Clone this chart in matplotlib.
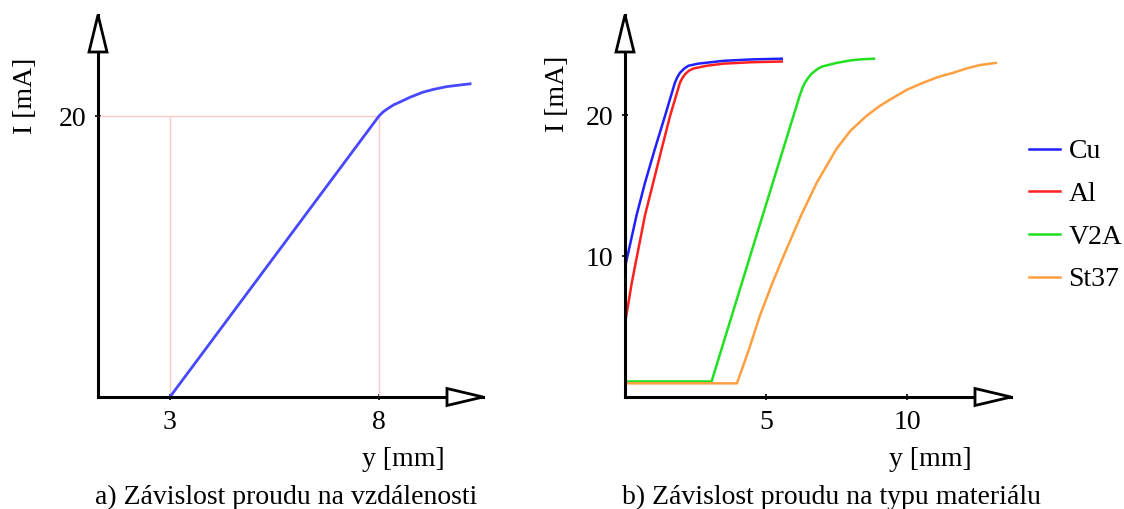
import numpy as np
import matplotlib.pyplot as plt
from matplotlib.patches import Polygon

plt.rcParams['font.family'] = ['Liberation Serif', 'DejaVu Serif']

# a) proud v zavislosti na vzdalenosti
a_y = [3, 8, 8.1, 8.22, 8.35, 8.5, 8.75, 9.05, 9.3, 9.62, 9.9, 10.18]
a_I = [0, 20, 20.3, 20.55, 20.8, 21.0, 21.35, 21.7, 21.9, 22.1, 22.2, 22.3]

# b) proud v zavislosti na materialu
cu_y = [0, 0.41, 0.71, 1.06, 1.42, 1.77, 1.86, 1.95, 2.1, 2.25, 2.6, 3.5, 4.5, 5.56]
cu_I = [9.2, 12.9, 15.2, 17.6, 19.95, 22.3, 22.7, 23.0, 23.3, 23.5, 23.65, 23.85, 23.95, 24.0]
al_y = [0, 0.24, 0.71, 1.3, 1.6, 1.95, 2.04, 2.13, 2.27, 2.42, 2.9, 3.5, 4.5, 5.56]
al_I = [5.2, 8.1, 12.9, 17.6, 19.95, 22.3, 22.65, 22.9, 23.15, 23.3, 23.5, 23.65, 23.75, 23.8]
v2a_y = [0, 3.07, 4.5, 6.2, 6.29, 6.38, 6.5, 6.6, 6.72, 6.85, 7.0, 7.2, 7.5, 8.0, 8.4, 8.83]
v2a_I = [1.1, 1.1, 10.4, 21.4, 21.9, 22.3, 22.65, 22.9, 23.1, 23.3, 23.45, 23.55, 23.7, 23.88, 23.96, 24.0]
st_y = [0, 3.97, 4.4, 4.79, 5.25, 5.73, 6.25, 6.8, 7.5, 8.0, 8.57, 9.0, 9.4, 10.0, 10.58, 11.1, 11.64, 12.1, 12.59, 13.15]
st_I = [0.97, 0.97, 3.4, 5.8, 8.2, 10.5, 12.9, 15.2, 17.6, 18.9, 19.95, 20.6, 21.1, 21.8, 22.3, 22.7, 23.0, 23.3, 23.55, 23.7]

materialy = ['Cu', 'Al', 'V2A', 'St37']
barvy = ['#2020ff', '#ff2020', '#20e020', '#ffa040']

FS = 20
fig = plt.figure(figsize=(11.24, 5.09), dpi=100)


def osy(left, right, top=15, bottom=397):
    W = right - left
    H = bottom - top
    ax = fig.add_axes([left / 1124, 1 - bottom / 509, W / 1124, H / 509])
    for s in ['top', 'right']:
        ax.spines[s].set_visible(False)
    for s in ['left', 'bottom']:
        ax.spines[s].set_linewidth(2.2)
    ax.tick_params(direction='inout', length=5, width=1.2, labelsize=FS)
    ax.tick_params(axis='x', pad=7)
    ax.tick_params(axis='y', pad=6)
    # sipky na koncich os
    up = Polygon([(0, 1), (-9 / W, 1 - 37 / H), (9 / W, 1 - 37 / H)], closed=True,
                 transform=ax.transAxes, facecolor='white', edgecolor='black',
                 lw=2, clip_on=False, zorder=5)
    rt = Polygon([(1, 0), (1 - 36 / W, 8.5 / H), (1 - 36 / W, -8.5 / H)], closed=True,
                 transform=ax.transAxes, facecolor='white', edgecolor='black',
                 lw=2, clip_on=False, zorder=5)
    ax.add_patch(up)
    ax.add_patch(rt)
    return ax, W, H


# graf a)
ax1, W1, H1 = osy(98, 483)
ax1.set_xlim(1.28, 10.49)
ax1.set_ylim(0, 27.2)
ax1.hlines(20, 1.28, 8, color='#ffc8c8', lw=1)
ax1.vlines([3, 8], 0, 20, color='#ffc8c8', lw=1)
ax1.plot(a_y, a_I, color='#4848ff', lw=2, solid_joinstyle='round')
ax1.set_xticks([3, 8])
ax1.set_yticks([20])
ax1.set_xlabel('y [mm]', fontsize=FS, va='center')
ax1.xaxis.set_label_coords((403 - 98) / W1, -(459 - 397) / H1)
ax1.set_ylabel('I [mA]', fontsize=FS, va='center')
ax1.yaxis.set_label_coords((25 - 98) / W1, (397 - 96) / H1)

# graf b)
ax2, W2, H2 = osy(625, 1011)
ax2.set_xlim(0, 13.69)
ax2.set_ylim(0, 27.1)
for yy, ii, lab, c in zip([cu_y, al_y, v2a_y, st_y], [cu_I, al_I, v2a_I, st_I], materialy, barvy):
    ax2.plot(yy, ii, color=c, lw=1.8, label=lab, solid_joinstyle='round')
ax2.set_xticks([5, 10])
ax2.set_yticks([10, 20])
ax2.set_xlabel('y [mm]', fontsize=FS, va='center')
ax2.xaxis.set_label_coords((930 - 625) / W2, -(459 - 397) / H2)
ax2.set_ylabel('I [mA]', fontsize=FS, va='center')
ax2.yaxis.set_label_coords((558 - 625) / W2, (397 - 94) / H2)
ax2.legend(loc='upper left', bbox_to_anchor=(1029 / 1124, 1 - 139 / 509),
           bbox_transform=fig.transFigure, frameon=False, fontsize=FS,
           borderpad=0, borderaxespad=0, handlelength=1.1, handletextpad=0.32,
           labelspacing=0.62)

fig.text(286 / 1124, 1 - 497 / 509, 'a) Závislost proudu na vzdálenosti',
         ha='center', va='center', fontsize=FS)
fig.text(831 / 1124, 1 - 497 / 509, 'b) Závislost proudu na typu materiálu',
         ha='center', va='center', fontsize=FS)

fig.savefig('out.png', dpi=100)
